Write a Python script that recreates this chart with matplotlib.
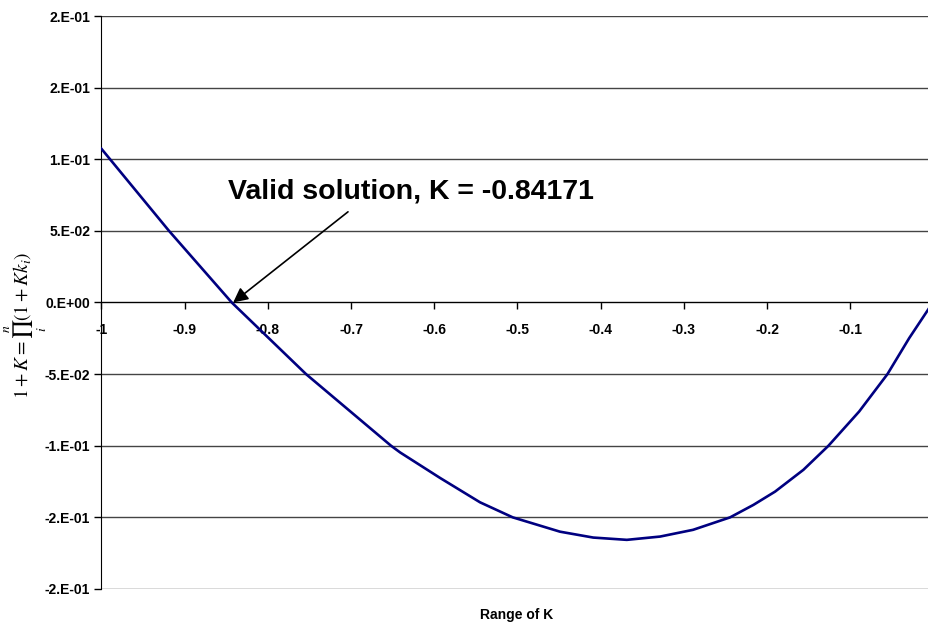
import matplotlib
matplotlib.use("Agg")
import matplotlib.pyplot as plt

# values
K = [-1.0, -0.9188, -0.8434, -0.7541, -0.652, -0.641, -0.593,
     -0.545, -0.5057, -0.4489, -0.409, -0.3686, -0.3286, -0.289, -0.2445,
     -0.2165, -0.1904, -0.1564, -0.1263, -0.0894, -0.0554, -0.0293, -0.0053]
f_K = [0.1073, 0.05, 0.0, -0.05, -0.1, -0.1047, -0.1225,
       -0.1395, -0.15, -0.160, -0.1641, -0.1657, -0.1634, -0.1587, -0.15,
       -0.1413, -0.1320, -0.1168, -0.1, -0.0761, -0.05, -0.0249, -0.0039]

x_ticks = [-1, -0.9, -0.8, -0.7, -0.6, -0.5, -0.4, -0.3, -0.2, -0.1]
x_tick_labels = ['-1', '-0.9', '-0.8', '-0.7', '-0.6', '-0.5', '-0.4', '-0.3', '-0.2', '-0.1']
y_ticks = [-0.2, -0.15, -0.1, -0.05, 0.0, 0.05, 0.1, 0.15, 0.2]
y_tick_labels = ['-2.E-01', '-2.E-01', '-1.E-01', '-5.E-02', '0.E+00',
                 '5.E-02', '1.E-01', '2.E-01', '2.E-01']

K_root = -0.84171

plt.rcParams['font.family'] = ['Liberation Sans', 'DejaVu Sans']
plt.rcParams['mathtext.fontset'] = 'stix'

fig = plt.figure(figsize=(9.29, 6.23), dpi=100)
ax = fig.add_axes([0.1092, 0.0546, 0.8957, 0.9197])

ax.plot(K, f_K, color='#000080', lw=1.9, zorder=3)

ax.set_xlim(-1, 0)
ax.set_ylim(-0.2, 0.2)

ax.spines['top'].set_visible(False)
ax.spines['right'].set_visible(False)
ax.spines['bottom'].set_position(('data', 0))
ax.tick_params(axis='both', direction='out', length=5, width=1.0, pad=3)
ax.tick_params(axis='x', pad=10)

ax.set_yticks(y_ticks)
ax.set_yticklabels(y_tick_labels, fontsize=10)
ax.set_xticks(x_ticks)
ax.set_xticklabels(x_tick_labels, fontsize=10)
for lab in ax.get_xticklabels() + ax.get_yticklabels():
    lab.set_fontweight('bold')

ax.grid(axis='y', color='#444444', lw=1.0)
ax.set_axisbelow(True)

ax.set_ylabel(r'$1+K=\prod_i^n(1+Kk_i)$', fontsize=14)
ax.yaxis.label.set_va('center')
ax.yaxis.set_label_coords(-0.0905, 0.46)

fig.text(0.556, 0.0128, 'Range of K', fontsize=10, fontweight='bold',
         ha='center', va='center')

ax.text(-0.628, 0.0773, 'Valid solution, K = -0.84171', fontsize=20.5,
        fontweight='bold', ha='center', va='center')
ax.annotate('', xy=(K_root, 0), xytext=(-0.7037, 0.0633),
            arrowprops=dict(arrowstyle='-|>', color='black', lw=1.2,
                            mutation_scale=22, shrinkA=0, shrinkB=0))

fig.savefig('out.png', dpi=100)
